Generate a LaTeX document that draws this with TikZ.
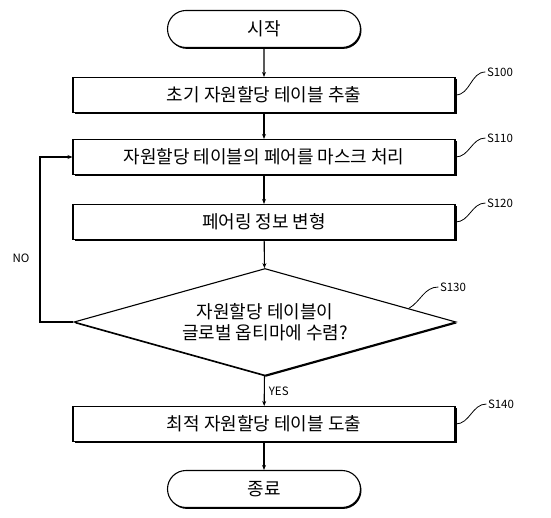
\documentclass[tikz,border=0pt]{standalone}
\usepackage{fontspec}
\setmainfont{Noto Sans CJK KR}
\usepackage{tikz}
\usetikzlibrary{shapes.geometric, shapes.misc, arrows.meta, shadows, calc}

\begin{document}
\begin{tikzpicture}[x=1pt, y=-1pt, >={Stealth[length=5pt,width=4pt]}, line width=1.1pt,
    stepbox/.style={draw, rectangle, fill=white, minimum width=382pt, minimum height=35pt, inner sep=0pt,
        font=\fontsize{18}{21}\selectfont, drop shadow={shadow xshift=1.6pt, shadow yshift=-1.6pt, opacity=1, fill=black}},
    termbox/.style={draw, rounded rectangle, fill=white, minimum width=193pt, minimum height=37pt, inner sep=0pt,
        font=\fontsize{18}{21}\selectfont, drop shadow={shadow xshift=1pt, shadow yshift=-1.4pt, opacity=1, fill=black}},
    testbox/.style={draw, diamond, fill=white, aspect=3.57, minimum width=382pt, minimum height=107pt, inner sep=0pt,
        align=center, font=\fontsize{18}{21.5}\selectfont, drop shadow={shadow xshift=1pt, shadow yshift=-1.4pt, opacity=1, fill=black}},
    steplabel/.style={font=\fontsize{11.5}{13}\selectfont, inner sep=1pt},
    leader/.style={line width=0.8pt}]

    \useasboundingbox (0,0) rectangle (551,518);

    \node (start) at (264,29) [termbox] {시작};
    \node (s100) at (264,95) [stepbox] {초기 자원할당 테이블 추출};
    \node (s110) at (264,157) [stepbox] {자원할당 테이블의 페어를 마스크 처리};
    \node (s120) at (264,222) [stepbox] {페어링 정보 변형};
    \node (s130) at (265,322) [testbox] {자원할당 테이블이\\글로벌 옵티마에 수렴?};
    \node (s140) at (264,424) [stepbox] {최적 자원할당 테이블 도출};
    \node (end) at (264,489) [termbox] {종료};

    \node (l100) at (500,72) [steplabel] {S100};
    \node (l110) at (500,138) [steplabel] {S110};
    \node (l120) at (500,203) [steplabel] {S120};
    \node (l130) at (453,287) [steplabel] {S130};
    \node (l140) at (501,404) [steplabel] {S140};

    \coordinate (bend) at (40,322);

    \draw[->] (start) -- (s100);
    \draw[->] (s100) -- (s110);
    \draw[->] (s110) -- (s120);
    \draw[->] (s120) -- (s130);
    \draw[->] (s130) -- node[right, steplabel, xshift=3pt] {YES} (s140);
    \draw[->] (s140) -- (end);
    \draw[->] (s130.west) -- (bend) |- (s110.west);
    \node (no) at (21,258) [steplabel] {NO};

    \draw[leader] (s100.east) to[out=0, in=180] (l100.west);
    \draw[leader] (s110.east) to[out=0, in=180] (l110.west);
    \draw[leader] (s120.east) to[out=0, in=180] (l120.west);
    \draw[leader] ($(s130.north east)!0.5!(s130.east)$) to[out=30, in=180] (l130.west);
    \draw[leader] (s140.east) to[out=0, in=180] (l140.west);
\end{tikzpicture}
\end{document}
